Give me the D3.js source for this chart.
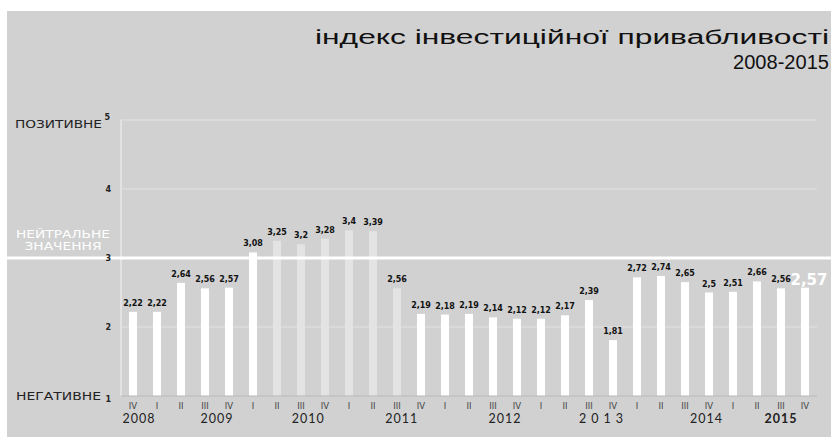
<!DOCTYPE html>
<html lang="uk">
<head>
  <meta charset="UTF-8">
  <title>Індекс інвестиційної привабливості 2008-2015</title>
  <script src="https://d3js.org/d3.v7.min.js"></script>
  <style>
    body { margin: 0; background: #fff; }
    svg { display: block; }
    .val { font-family: "DejaVu Sans", sans-serif; font-weight: bold; font-size: 8px; fill: #111; }
    .q { font-family: "DejaVu Sans", sans-serif; font-size: 8.5px; fill: #444; }
    .yr { font-family: Lato, sans-serif; font-size: 12.5px; fill: #222; }
    .side { font-family: "DejaVu Sans", sans-serif; font-size: 10px; fill: #222; }
    .tick { font-family: "DejaVu Sans", sans-serif; font-weight: bold; font-size: 8px; fill: #222; }
  </style>
</head>
<body>
<div id="chart"></div>
<script>
  // дані
  const quarters = ["IV", "I", "II", "III", "IV", "I", "II", "III", "IV", "I", "II", "III", "IV",
                    "I", "II", "III", "IV", "I", "II", "III", "IV", "I", "II", "III", "IV",
                    "I", "II", "III", "IV"];
  const values = [2.22, 2.22, 2.64, 2.56, 2.57, 3.08, 3.25, 3.2, 3.28, 3.4, 3.39, 2.56, 2.19,
                  2.18, 2.19, 2.14, 2.12, 2.12, 2.17, 2.39, 1.81, 2.72, 2.74, 2.65, 2.5,
                  2.51, 2.66, 2.56, 2.57];
  const valueLabels = ["2,22", "2,22", "2,64", "2,56", "2,57", "3,08", "3,25", "3,2", "3,28", "3,4", "3,39", "2,56", "2,19",
                       "2,18", "2,19", "2,14", "2,12", "2,12", "2,17", "2,39", "1,81", "2,72", "2,74", "2,65", "2,5",
                       "2,51", "2,66", "2,56", "2,57"];
  const years = ["2008", "2009", "2010", "2011", "2012", "2013", "2014", "2015"];
  const yTicks = [1, 2, 3, 4, 5];
  const neutral = 3;

  const W = 831, H = 438;
  const ids = quarters.map((q, i) => i);
  const last = values.length - 1;

  const svg = d3.select("#chart").append("svg")
    .attr("width", W).attr("height", H);

  // фон
  svg.append("rect").attr("x", 7).attr("y", 11)
    .attr("width", W - 7).attr("height", H - 12).attr("fill", "#d1d1d1");

  const x = d3.scaleBand().domain(ids).range([121, 817])
    .paddingInner(2 / 3).paddingOuter(1 / 3);
  const y = d3.scaleLinear().domain([1, 5]).range([396, 120]);
  const cx = i => x(i) + x.bandwidth() / 2;

  // сітка
  svg.selectAll(".grid").data([2, 4, 5]).enter().append("line")
    .attr("x1", 121).attr("x2", 817)
    .attr("y1", d => y(d)).attr("y2", d => y(d))
    .attr("stroke", "#dddddd").attr("stroke-width", 1.5);

  svg.append("line").attr("x1", 121).attr("x2", 121)
    .attr("y1", y(5)).attr("y2", y(1))
    .attr("stroke", "#e2e2e2").attr("stroke-width", 2);

  // стовпці
  svg.selectAll(".bar").data(values).enter().append("rect")
    .attr("x", (d, i) => x(i))
    .attr("width", x.bandwidth())
    .attr("y", d => y(d))
    .attr("height", d => y(1) - y(d))
    .attr("fill", (d, i) => (i >= 6 && i <= 11) ? "#e3e3e3" : "#ffffff");

  svg.append("line").attr("x1", 121).attr("x2", 817)
    .attr("y1", y(1)).attr("y2", y(1))
    .attr("stroke", "#b8b8b8").attr("stroke-width", 1);

  // нейтральна лінія
  svg.append("line").attr("x1", 7).attr("x2", W)
    .attr("y1", y(neutral)).attr("y2", y(neutral))
    .attr("stroke", "#ffffff").attr("stroke-width", 3);

  // підписи значень
  svg.selectAll(".val").data(values).enter().append("text")
    .attr("class", "val")
    .attr("x", (d, i) => cx(i) + (i === last ? 4 : 0))
    .attr("y", (d, i) => y(d) - (i === last ? 3 : 6))
    .attr("text-anchor", "middle")
    .style("fill", (d, i) => i === last ? "#fff" : null)
    .style("font-size", (d, i) => i === last ? "15px" : null)
    .text((d, i) => valueLabels[i]);

  // квартали
  svg.selectAll(".q").data(quarters).enter().append("text")
    .attr("class", "q")
    .attr("x", (d, i) => cx(i))
    .attr("y", 409)
    .attr("text-anchor", "middle")
    .text(d => d);

  // роки
  const yearAnchor = [0.25, 3.5, 7.3, 11.2, 15.5, 19.6, 23.9, 27];
  svg.selectAll(".yr").data(years).enter().append("text")
    .attr("class", "yr")
    .attr("x", (d, i) => cx(0) + yearAnchor[i] * x.step())
    .attr("y", 423)
    .attr("text-anchor", "middle")
    .style("letter-spacing", (d, i) => i === 5 ? "5px" : "1px")
    .style("font-weight", (d, i) => i === 7 ? "bold" : null)
    .text(d => d);

  // шкала
  svg.selectAll(".tick").data(yTicks).enter().append("text")
    .attr("class", "tick")
    .attr("x", d => d === 5 ? 110 : 111)
    .attr("y", d => y(d) + (d === 5 ? 0 : d === 1 ? 6 : 3))
    .attr("text-anchor", "end")
    .text(d => d);

  const side = (txt, xx, yy, len, anchor, fill) =>
    svg.append("text").attr("class", "side").attr("x", xx).attr("y", yy)
      .attr("text-anchor", anchor)
      .attr("textLength", len).attr("lengthAdjust", "spacingAndGlyphs")
      .style("fill", fill || null).text(txt);
  side("ПОЗИТИВНЕ", 102, 128, 87, "end");
  side("НЕГАТИВНЕ", 101, 400, 85, "end");
  side("НЕЙТРАЛЬНЕ", 63, 238, 94, "middle", "#fff");
  side("ЗНАЧЕННЯ", 63, 250, 77, "middle", "#fff");

  // заголовок
  svg.append("text").attr("x", 829).attr("y", 44)
    .attr("text-anchor", "end")
    .attr("textLength", 514).attr("lengthAdjust", "spacingAndGlyphs")
    .style("font-family", "'Liberation Sans', Arial, sans-serif")
    .style("font-size", "20px").style("fill", "#111")
    .text("індекс інвестиційної привабливості");
  svg.append("text").attr("x", 829).attr("y", 69)
    .attr("text-anchor", "end")
    .attr("textLength", 96).attr("lengthAdjust", "spacingAndGlyphs")
    .style("font-family", "'Liberation Sans', Arial, sans-serif")
    .style("font-size", "20px").style("fill", "#111")
    .text("2008-2015");
</script>
</body>
</html>
